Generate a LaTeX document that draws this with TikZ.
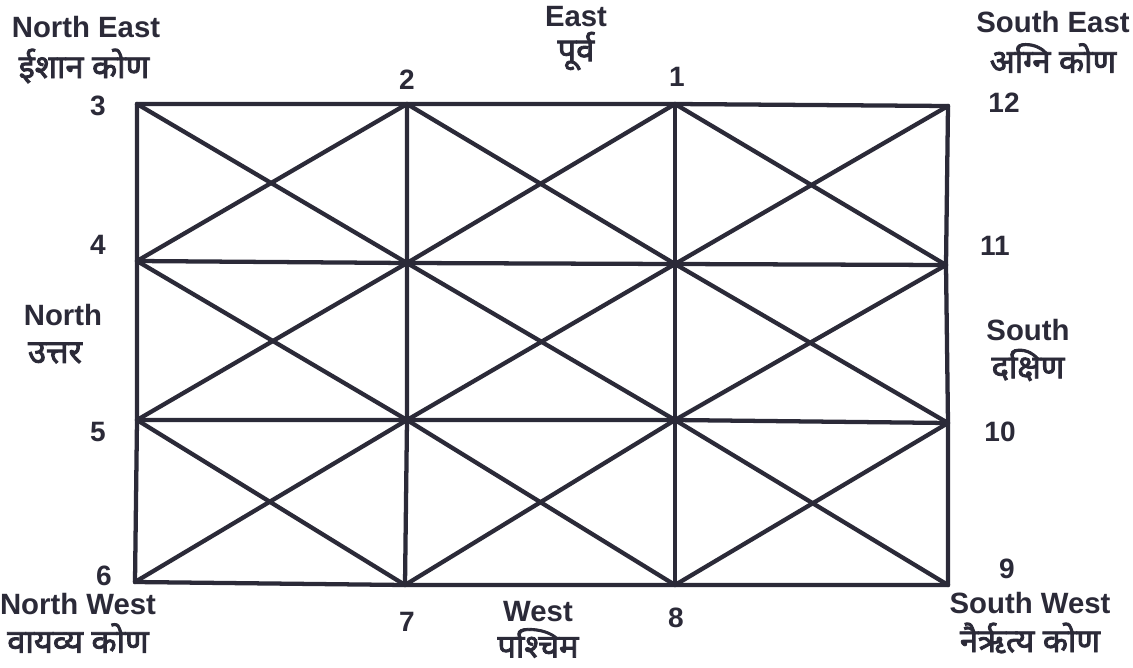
\documentclass[tikz,border=0pt]{standalone}
\usepackage{fontspec}
\setmainfont{Liberation Sans}
\newfontfamily\deva[Script=Devanagari,FakeBold=2.5]{Noto Sans}
\definecolor{ink}{HTML}{2B2A38}
\begin{document}
\begin{tikzpicture}[x=0.75pt,y=-0.75pt,
  gridline/.style={draw=ink,line width=3.2pt,line cap=round,line join=round},
  lbl/.style={text=ink,font=\fontsize{22}{25}\selectfont\bfseries,inner sep=0pt},
  dlbl/.style={text=ink,font=\fontsize{24.5}{28}\selectfont\deva,inner sep=0pt},
  num/.style={text=ink,font=\fontsize{21}{24}\selectfont\bfseries,inner sep=0pt}]
\useasboundingbox[fill=white] (0,0) rectangle (1133,668);
% grid points
\coordinate (v3) at (137,104);  \coordinate (v2) at (407,104);
\coordinate (v1) at (675,104);  \coordinate (v12) at (948,106);
\coordinate (v4) at (137,261);  \coordinate (a2) at (407,263);
\coordinate (a1) at (675,264);  \coordinate (v11) at (946,265);
\coordinate (v5) at (137,420);  \coordinate (b2) at (407,420);
\coordinate (b1) at (675,420);  \coordinate (v10) at (948,423);
\coordinate (v6) at (135,582);  \coordinate (v7) at (405,585);
\coordinate (v8) at (675,585);  \coordinate (v9) at (948,585);
% horizontal
\draw[gridline] (v3) -- (v2) -- (v1) -- (v12);
\draw[gridline] (v4) -- (a2) -- (a1) -- (v11);
\draw[gridline] (v5) -- (b2) -- (b1) -- (v10);
\draw[gridline] (v6) -- (v7) -- (v8) -- (v9);
% vertical
\draw[gridline] (v3) -- (v4) -- (v5) -- (v6);
\draw[gridline] (v2) -- (a2) -- (b2) -- (v7);
\draw[gridline] (v1) -- (a1) -- (b1) -- (v8);
\draw[gridline] (v12) -- (v11) -- (v10) -- (v9);
% diagonals
\draw[gridline] (v3) -- (a2);  \draw[gridline] (v2) -- (v4);
\draw[gridline] (v2) -- (a1);  \draw[gridline] (v1) -- (a2);
\draw[gridline] (v1) -- (v11); \draw[gridline] (v12) -- (a1);
\draw[gridline] (v4) -- (b2);  \draw[gridline] (a2) -- (v5);
\draw[gridline] (a2) -- (b1);  \draw[gridline] (a1) -- (b2);
\draw[gridline] (a1) -- (v10); \draw[gridline] (v11) -- (b1);
\draw[gridline] (v5) -- (v7);  \draw[gridline] (b2) -- (v6);
\draw[gridline] (b2) -- (v8);  \draw[gridline] (b1) -- (v7);
\draw[gridline] (b1) -- (v9);  \draw[gridline] (v10) -- (v8);
% numbers
\node[num] (n3) at (98,106) {3};
\node[num] (n2) at (407,80) {2};
\node[num] (n1) at (677,77) {1};
\node[num] (n12) at (1004,103) {12};
\node[num] (n4) at (98,245) {4};
\node[num] (n11) at (995,246) {11};
\node[num] (n5) at (98,432) {5};
\node[num] (n10) at (1000,432) {10};
\node[num] (n6) at (104,576) {6};
\node[num] (n9) at (1007,569) {9};
\node[num] (n7) at (407,622) {7};
\node[num] (n8) at (676,618) {8};
% directions
\node[lbl] (ne) at (86,27) {North East};
\node[dlbl] (ned) at (84,66) {ईशान कोण};
\node[lbl] (e) at (576,17) {East};
\node[dlbl] (ed) at (576,51) {पूर्व};
\node[lbl] (se) at (1053,22) {South East};
\node[dlbl] (sed) at (1053,58) {अग्नि कोण};
\node[lbl] (n) at (63,315) {North};
\node[dlbl] (nd) at (55,353) {उत्तर};
\node[lbl] (s) at (1028,330) {South};
\node[dlbl] (sd) at (1028,365) {दक्षिण};
\node[lbl] (nw) at (78,604) {North West};
\node[dlbl] (nwd) at (78,638) {वायव्य कोण};
\node[lbl] (w) at (538,612) {West};
\node[dlbl] (wd) at (538,643) {पश्चिम};
\node[lbl] (sw) at (1030,603) {South West};
\node[dlbl] (swd) at (1030,638) {नैर्ऋत्य कोण};
\end{tikzpicture}
\end{document}
